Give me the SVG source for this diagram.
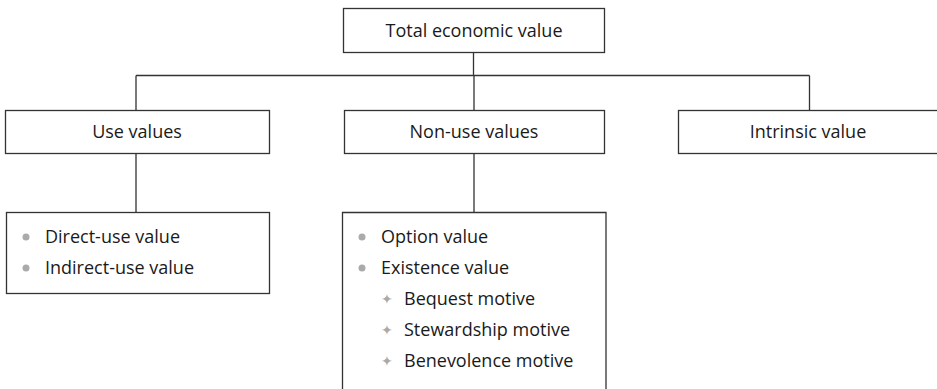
<svg xmlns="http://www.w3.org/2000/svg" width="937" height="389" viewBox="0 0 937 389">
<style>
.box{fill:#fff;stroke:#333;stroke-width:1.3}
.t{font-family:"Open Sans","Liberation Sans",sans-serif;font-size:18px;fill:#1a1a1a}
.c{text-anchor:middle}
.conn{stroke:#333;stroke-width:1.3;fill:none}
.dot{fill:#aaa}
.star{fill:#aaa;font-family:"DejaVu Sans",sans-serif;font-size:14px}
</style>
<rect width="937" height="389" fill="#fff"/>
<g id="connectors">
<path class="conn" d="M473.5 52V75.5M136 75.5H809.5M136 75.5V110M474 75.5V110M809.5 75.5V110M136 154V212M474 154V212"/>
</g>
<g id="total">
<rect class="box" x="343.5" y="8.5" width="261" height="44"/>
<text class="t c" x="474" y="37">Total economic value</text>
</g>
<g id="use">
<rect class="box" x="5.5" y="110.5" width="264" height="43"/>
<text class="t c" x="137" y="138">Use values</text>
</g>
<g id="nonuse">
<rect class="box" x="344.5" y="110.5" width="260" height="43"/>
<text class="t c" x="474" y="138">Non-use values</text>
</g>
<g id="intrinsic">
<rect class="box" x="678.5" y="110.5" width="260" height="43"/>
<text class="t c" x="808" y="138">Intrinsic value</text>
</g>
<g id="use-list">
<rect class="box" x="6.5" y="212.5" width="263" height="81"/>
<circle class="dot" cx="26" cy="237" r="3.5"/>
<text class="t" x="45" y="243">Direct-use value</text>
<circle class="dot" cx="26" cy="268" r="3.5"/>
<text class="t" x="45" y="274">Indirect-use value</text>
</g>
<g id="nonuse-list">
<path class="box" d="M342.5 392V212.5H606V392"/>
<circle class="dot" cx="362" cy="237" r="3.5"/>
<text class="t" x="381" y="243">Option value</text>
<circle class="dot" cx="362" cy="268" r="3.5"/>
<text class="t" x="381" y="274">Existence value</text>
<text class="star" x="381" y="304">✦</text>
<text class="t" x="404" y="305">Bequest motive</text>
<text class="star" x="381" y="335">✦</text>
<text class="t" x="404" y="336">Stewardship motive</text>
<text class="star" x="381" y="366">✦</text>
<text class="t" x="404" y="367">Benevolence motive</text>
</g>
</svg>
